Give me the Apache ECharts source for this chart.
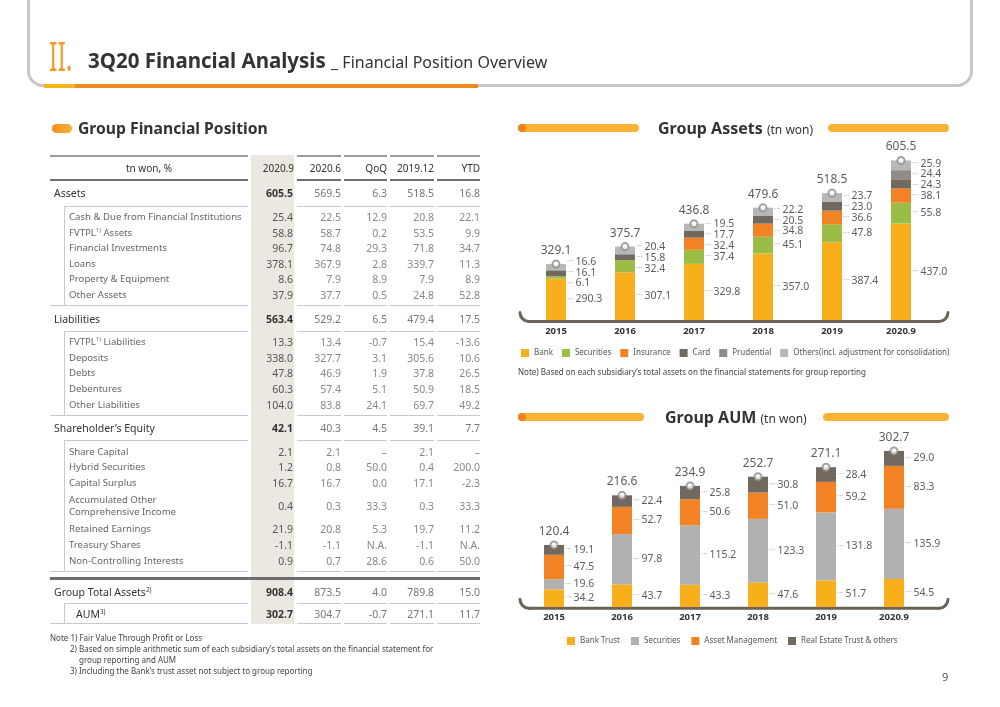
<!DOCTYPE html>
<html>
<head>
<meta charset="utf-8">
<script src="https://cdn.jsdelivr.net/npm/echarts@6.0.0/dist/echarts.min.js"></script>
<style>
html,body{margin:0;padding:0;background:#fff}
body{width:1000px;height:707px;position:relative;overflow:hidden;font-family:"Noto Sans",sans-serif;color:#333}
.a{position:absolute;white-space:nowrap}
#chart{position:absolute;left:0;top:0;width:1000px;height:707px}
#tbl{position:absolute;left:0;top:0;width:1000px;height:707px}
#tbl .c{position:absolute;display:flex;align-items:center;white-space:nowrap;box-sizing:border-box;line-height:1.2}
#tbl .l{position:absolute}
sup{font-size:0.6em;vertical-align:0.7em;line-height:0}
.bar{position:absolute;height:8px;border-radius:4px;background:#f9b233}
</style>
</head>
<body>
<div id="chart"></div>
<div id="tbl"></div>

<!-- slide frame / titles -->
<div class="a" style="left:27px;top:-40px;width:946px;height:127px;border:3px solid #c6c6c6;border-radius:16px;box-sizing:border-box"></div>
<div class="a" style="left:44px;top:84px;width:434px;height:4px;background:#f08a20"></div>
<div class="a" style="left:44px;top:84px;width:31px;height:4px;background:#f8b41c"></div>
<div class="a" style="left:49px;top:34px;font-size:40px;line-height:44px;color:#f39a30;transform:scaleX(0.62);transform-origin:0 0">II.</div>
<div class="a" style="left:88px;top:48px;font-size:20.5px;line-height:25px;font-weight:bold;color:#333">3Q20 Financial Analysis <span style="font-weight:normal;font-size:16px">_ Financial Position Overview</span></div>

<div class="a" style="left:52px;top:124px;width:20px;height:9px;border-radius:5px;background:linear-gradient(90deg,#f08a20,#f9b233)"></div>
<div class="a" style="left:78px;top:117px;font-size:15.7px;line-height:22px;font-weight:bold;color:#333">Group Financial Position</div>

<div class="bar" style="left:518px;top:124px;width:121px"></div>
<div class="bar" style="left:518px;top:124px;width:8px;background:#f0821e"></div>
<div class="bar" style="left:828px;top:124px;width:121px"></div>
<div class="a" style="left:658px;top:117px;font-size:16px;line-height:22px;font-weight:bold;color:#333">Group Assets <span style="font-weight:normal;font-size:12px">(tn won)</span></div>
<div class="a" style="left:518px;top:366px;font-size:8px;line-height:11px;color:#444">Note) Based on each subsidiary’s total assets on the financial statements for group reporting</div>

<div class="bar" style="left:518px;top:413px;width:126px"></div>
<div class="bar" style="left:518px;top:413px;width:8px;background:#f0821e"></div>
<div class="bar" style="left:823px;top:413px;width:126px"></div>
<div class="a" style="left:665px;top:406px;font-size:16px;line-height:22px;font-weight:bold;color:#333">Group AUM <span style="font-weight:normal;font-size:12px">(tn won)</span></div>

<div class="a" style="left:50px;top:632px;font-size:8px;line-height:11px;color:#444">Note 1) Fair Value Through Profit or Loss<br>
<span style="padding-left:20px">2) Based on simple arithmetic sum of each subsidiary’s total assets on the financial statement for</span><br>
<span style="padding-left:29px">group reporting and AUM</span><br>
<span style="padding-left:20px">3) Including the Bank’s trust asset not subject to group reporting</span></div>
<div class="a" style="left:942px;top:669px;font-size:11px;color:#555">9</div>

<script>
// ---------------- DATA ----------------
const years = ['2015', '2016', '2017', '2018', '2019', '2020.9'];

const assetBank       = [290.3, 307.1, 329.8, 357.0, 387.4, 437.0];
const assetSecurities = [6.1, 32.4, 37.4, 45.1, 47.8, 55.8];
const assetInsurance  = [null, null, 32.4, 34.8, 36.6, 38.1];
const assetCard       = [16.1, 15.8, 17.7, 20.5, 23.0, 24.3];
const assetPrudential = [null, null, null, null, null, 24.4];
const assetOthers     = [16.6, 20.4, 19.5, 22.2, 23.7, 25.9];
const assetTotal      = [329.1, 375.7, 436.8, 479.6, 518.5, 605.5];
const assetNames = ['Bank', 'Securities', 'Insurance', 'Card', 'Prudential', 'Others(incl. adjustment for consolidation)'];

const aumBankTrust  = [34.2, 43.7, 43.3, 47.6, 51.7, 54.5];
const aumSecurities = [19.6, 97.8, 115.2, 123.3, 131.8, 135.9];
const aumAssetMgmt  = [47.5, 52.7, 50.6, 51.0, 59.2, 83.3];
const aumRealEstate = [19.1, 22.4, 25.8, 30.8, 28.4, 29.0];
const aumTotal      = [120.4, 216.6, 234.9, 252.7, 271.1, 302.7];
const aumNames = ['Bank Trust', 'Securities', 'Asset Management', 'Real Estate Trust & others'];

const tableHeader = ['tn won, %', '2020.9', '2020.6', 'QoQ', '2019.12', 'YTD'];
const tableRows = [
  ['sec', 'Assets', '605.5', '569.5', '6.3', '518.5', '16.8'],
  ['sub', 'Cash &amp; Due from Financial Institutions', '25.4', '22.5', '12.9', '20.8', '22.1'],
  ['sub', 'FVTPL<sup>1)</sup> Assets', '58.8', '58.7', '0.2', '53.5', '9.9'],
  ['sub', 'Financial Investments', '96.7', '74.8', '29.3', '71.8', '34.7'],
  ['sub', 'Loans', '378.1', '367.9', '2.8', '339.7', '11.3'],
  ['sub', 'Property &amp; Equipment', '8.6', '7.9', '8.9', '7.9', '8.9'],
  ['sub', 'Other Assets', '37.9', '37.7', '0.5', '24.8', '52.8'],
  ['sec', 'Liabilities', '563.4', '529.2', '6.5', '479.4', '17.5'],
  ['sub', 'FVTPL<sup>1)</sup> Liabilities', '13.3', '13.4', '-0.7', '15.4', '-13.6'],
  ['sub', 'Deposits', '338.0', '327.7', '3.1', '305.6', '10.6'],
  ['sub', 'Debts', '47.8', '46.9', '1.9', '37.8', '26.5'],
  ['sub', 'Debentures', '60.3', '57.4', '5.1', '50.9', '18.5'],
  ['sub', 'Other Liabilities', '104.0', '83.8', '24.1', '69.7', '49.2'],
  ['sec', 'Shareholder’s Equity', '42.1', '40.3', '4.5', '39.1', '7.7'],
  ['sub', 'Share Capital', '2.1', '2.1', '–', '2.1', '–'],
  ['sub', 'Hybrid Securities', '1.2', '0.8', '50.0', '0.4', '200.0'],
  ['sub', 'Capital Surplus', '16.7', '16.7', '0.0', '17.1', '-2.3'],
  ['sub2', 'Accumulated Other<br>Comprehensive Income', '0.4', '0.3', '33.3', '0.3', '33.3'],
  ['sub', 'Retained Earnings', '21.9', '20.8', '5.3', '19.7', '11.2'],
  ['sub', 'Treasury Shares', '-1.1', '-1.1', 'N.A.', '-1.1', 'N.A.'],
  ['sub', 'Non-Controlling Interests', '0.9', '0.7', '28.6', '0.6', '50.0'],
  ['tot', 'Group Total Assets<sup>2)</sup>', '908.4', '873.5', '4.0', '789.8', '15.0'],
  ['aum', 'AUM<sup>3)</sup>', '302.7', '304.7', '-0.7', '271.1', '11.7']
];

// ---------------- TABLE ----------------
(function () {
  const T = document.getElementById('tbl');
  const colL = [50, 251, 297, 344, 390, 437], colW = [198, 43, 44, 43, 44, 43];
  const LINE = '#c9c9c9';
  function div(cls, st, html) {
    const d = document.createElement('div'); d.className = cls;
    Object.assign(d.style, st); if (html != null) d.innerHTML = '<span>' + html + '</span>'; T.appendChild(d); return d;
  }
  function hl(y, x, w, h, c) { div('l', {left: x + 'px', top: y + 'px', width: w + 'px', height: h + 'px', background: c}); }
  function vl(x, y1, y2) { div('l', {left: x + 'px', top: y1 + 'px', width: '1px', height: (y2 - y1) + 'px', background: LINE}); }
  function cell(c, y, h, html, st) {
    const base = {left: colL[c] + 'px', top: y + 'px', width: colW[c] + 'px', height: h + 'px',
      justifyContent: c === 0 ? 'flex-start' : 'flex-end', fontSize: '10.5px', color: '#777'};
    div('c', Object.assign(base, st || {}), html);
  }
  div('l', {left: colL[1] + 'px', top: '155px', width: colW[1] + 'px', height: '469px', background: '#ece7e1'});
  let y = 155;
  for (let c = 0; c < 6; c++) {
    if (c !== 1) { hl(155, colL[c], colW[c], 2, '#9a9a9a'); hl(179, colL[c], colW[c], 2, '#707070'); }
    cell(c, 155, 26, tableHeader[c], c === 0 ? {justifyContent: 'center', color: '#333', fontSize: '10px'} : {color: '#333', fontSize: '10px'});
  }
  y = 181;
  let groupStart = null;
  const numLines = (yy) => { for (let c = 2; c < 6; c++) hl(yy, colL[c], colW[c], 1, LINE); };
  for (let r = 0; r < tableRows.length; r++) {
    const row = tableRows[r], type = row[0];
    const next = tableRows[r + 1];
    if (type === 'sec' || type === 'tot') {
      if (type === 'tot') { y += 5; hl(y, 50, 430, 3, '#6e6e6e'); y += 3; }
      const h = type === 'tot' ? 24.5 : 25.5;
      cell(0, y, h, row[1], {paddingLeft: '4px', color: '#333', fontSize: '10.5px'});
      for (let c = 1; c < 6; c++) cell(c, y, h, row[c + 1], c === 1 ? {color: '#333', fontWeight: 'bold', paddingRight: '1px'} : {color: '#777'});
      y += h;
      hl(y - 1, 64, 184, 1, LINE); numLines(y - 1);
    } else if (type === 'aum') {
      const h = 20;
      vl(64, y, y + h);
      cell(0, y, h, row[1], {paddingLeft: '26px', color: '#333', fontSize: '10.5px'});
      for (let c = 1; c < 6; c++) cell(c, y, h, row[c + 1], c === 1 ? {color: '#333', fontWeight: 'bold', paddingRight: '1px'} : {color: '#777'});
      y += h;
      hl(y - 1, 50, 198, 1, LINE); numLines(y - 1);
    } else {
      if (groupStart === null) { groupStart = y; y += 3; }
      const h = type === 'sub2' ? 31 : 15.6;
      cell(0, y, h, row[1], {paddingLeft: '19px', color: '#666', fontSize: '9.6px', lineHeight: '12.4px'});
      for (let c = 1; c < 6; c++) cell(c, y, h, row[c + 1], c === 1 ? {color: '#555', paddingRight: '1px'} : {color: '#888'});
      y += h;
      if (!next || (next[0] !== 'sub' && next[0] !== 'sub2')) {
        y += 3;
        vl(64, groupStart, y);
        hl(y - 1, 50, 198, 1, LINE); numLines(y - 1);
        groupStart = null;
      }
    }
  }
})();

// ---------------- CHART ----------------
const A_MIN = 180, A_MAX = 620, A_TOP = 155, A_H = 165, A_LEFT = 521.5, A_W = 414;
const U_MIN = 0, U_MAX = 320, U_TOP = 442, U_H = 165, U_LEFT = 520, U_W = 408;

function buildLabels(segs, axisMin, pxPerUnit, gapPx) {
  const out = [];
  const gap = gapPx / pxPerUnit;
  for (let i = 0; i < years.length; i++) {
    let base = 0; const items = [];
    segs.forEach(arr => {
      const v = arr[i];
      if (v == null) return;
      const lo = Math.max(base, axisMin), hi = base + v;
      items.push({c: (lo + hi) / 2, t: v.toFixed(1)});
      base += v;
    });
    const pos = bl => { let s = 0; bl.forEach((j, k) => { s += items[j].c - k * gap; }); return s / bl.length; };
    const blocks = [];
    items.forEach((it, j) => {
      blocks.push([j]);
      while (blocks.length > 1) {
        const b = blocks[blocks.length - 1], a = blocks[blocks.length - 2];
        if (pos(a) + a.length * gap > pos(b) + 1e-9) { blocks.splice(blocks.length - 2, 2, a.concat(b)); }
        else break;
      }
    });
    blocks.forEach(bl => { const f = pos(bl); bl.forEach((j, k) => out.push({name: items[j].t, value: [i, f + k * gap]})); });
  }
  return out;
}

const assetSegs = [assetBank, assetSecurities, assetInsurance, assetCard, assetPrudential, assetOthers];
const assetColors = ['#f9ae1b', '#9cbd45', '#f28325', '#716860', '#8f8b88', '#b8b7b6'];
const aumSegs = [aumBankTrust, aumSecurities, aumAssetMgmt, aumRealEstate];
const aumColors = ['#f9ae1b', '#b1b1b1', '#f28325', '#716860'];
const aumIds = aumNames.map(n => 'AUM ' + n);

const segLabel = {
  show: true, position: 'right', distance: 11,
  formatter: p => '{d|···}{v|' + p.name + '}',
  rich: {d: {fontSize: 8, color: '#a0a0a0', padding: [0, 2, 0, 0]}, v: {fontSize: 10.5, color: '#333'}}
};
const totalStyle = {color: '#fff', borderColor: '#8c8c8c', borderWidth: 2};

const series = [];
assetSegs.forEach((arr, k) => series.push({
  type: 'bar', name: assetNames[k], stack: 'a', xAxisIndex: 0, yAxisIndex: 0, data: arr,
  barWidth: 20, itemStyle: {color: assetColors[k]}, silent: true, clip: true
}));
aumSegs.forEach((arr, k) => series.push({
  type: 'bar', name: aumIds[k], stack: 'u', xAxisIndex: 1, yAxisIndex: 1, data: arr,
  barWidth: 20, itemStyle: {color: aumColors[k]}, silent: true, clip: true
}));
series.push({
  type: 'scatter', xAxisIndex: 0, yAxisIndex: 0, symbolSize: 0.1, itemStyle: {color: 'transparent'},
  data: buildLabels(assetSegs, A_MIN, A_H / (A_MAX - A_MIN), 10.8), label: segLabel, silent: true, z: 5
});
series.push({
  type: 'scatter', xAxisIndex: 1, yAxisIndex: 1, symbolSize: 0.1, itemStyle: {color: 'transparent'},
  data: buildLabels(aumSegs, U_MIN, U_H / (U_MAX - U_MIN), 10.8), label: segLabel, silent: true, z: 5
});
[[assetTotal, 0], [aumTotal, 1]].forEach(([arr, g]) => series.push({
  type: 'scatter', xAxisIndex: g, yAxisIndex: g, data: arr, symbol: 'circle', symbolSize: 7,
  itemStyle: totalStyle, silent: true, z: 10,
  label: {show: true, position: 'top', distance: 3, fontSize: 12, color: '#333', formatter: p => p.value.toFixed(1)}
}));

const xCommon = {type: 'category', data: years, axisLine: {show: false}, axisTick: {show: false},
  axisLabel: {fontSize: 9.5, fontWeight: 'bold', color: '#333'}};
const legendCommon = {icon: 'rect', itemWidth: 8, itemHeight: 8, selectedMode: false,
  textStyle: {fontSize: 8, color: '#555'}};

function bracket(yLine) {
  const st = {fill: 'none', stroke: '#6b625a', lineWidth: 3, lineCap: 'round'};
  return [
    {type: 'line', z: 1, shape: {x1: 529, y1: yLine, x2: 939, y2: yLine}, style: st},
    {type: 'arc', z: 1, shape: {cx: 529, cy: yLine - 9, r: 9, startAngle: Math.PI / 2, endAngle: Math.PI, clockwise: true}, style: st},
    {type: 'arc', z: 1, shape: {cx: 939, cy: yLine - 9, r: 9, startAngle: 0, endAngle: Math.PI / 2, clockwise: true}, style: st}
  ];
}

const chart = echarts.init(document.getElementById('chart'));
chart.setOption({
  animation: false,
  textStyle: {fontFamily: 'Noto Sans'},
  grid: [
    {left: A_LEFT, top: A_TOP, width: A_W, height: A_H},
    {left: U_LEFT, top: U_TOP, width: U_W, height: U_H}
  ],
  xAxis: [
    Object.assign({gridIndex: 0}, xCommon, {axisLabel: Object.assign({margin: 6}, xCommon.axisLabel)}),
    Object.assign({gridIndex: 1}, xCommon, {axisLabel: Object.assign({margin: 5}, xCommon.axisLabel)})
  ],
  yAxis: [
    {gridIndex: 0, type: 'value', min: A_MIN, max: A_MAX, show: false, splitLine: {show: false}},
    {gridIndex: 1, type: 'value', min: U_MIN, max: U_MAX, show: false, splitLine: {show: false}}
  ],
  legend: [
    Object.assign({left: 516, top: 344, itemGap: 9, data: assetNames}, legendCommon),
    Object.assign({left: 562, top: 632, itemGap: 11, data: aumIds, formatter: n => n.replace(/^AUM /, '')}, legendCommon)
  ],
  graphic: bracket(321.5).concat(bracket(608.3)),
  series: series
});
</script>
</body>
</html>
